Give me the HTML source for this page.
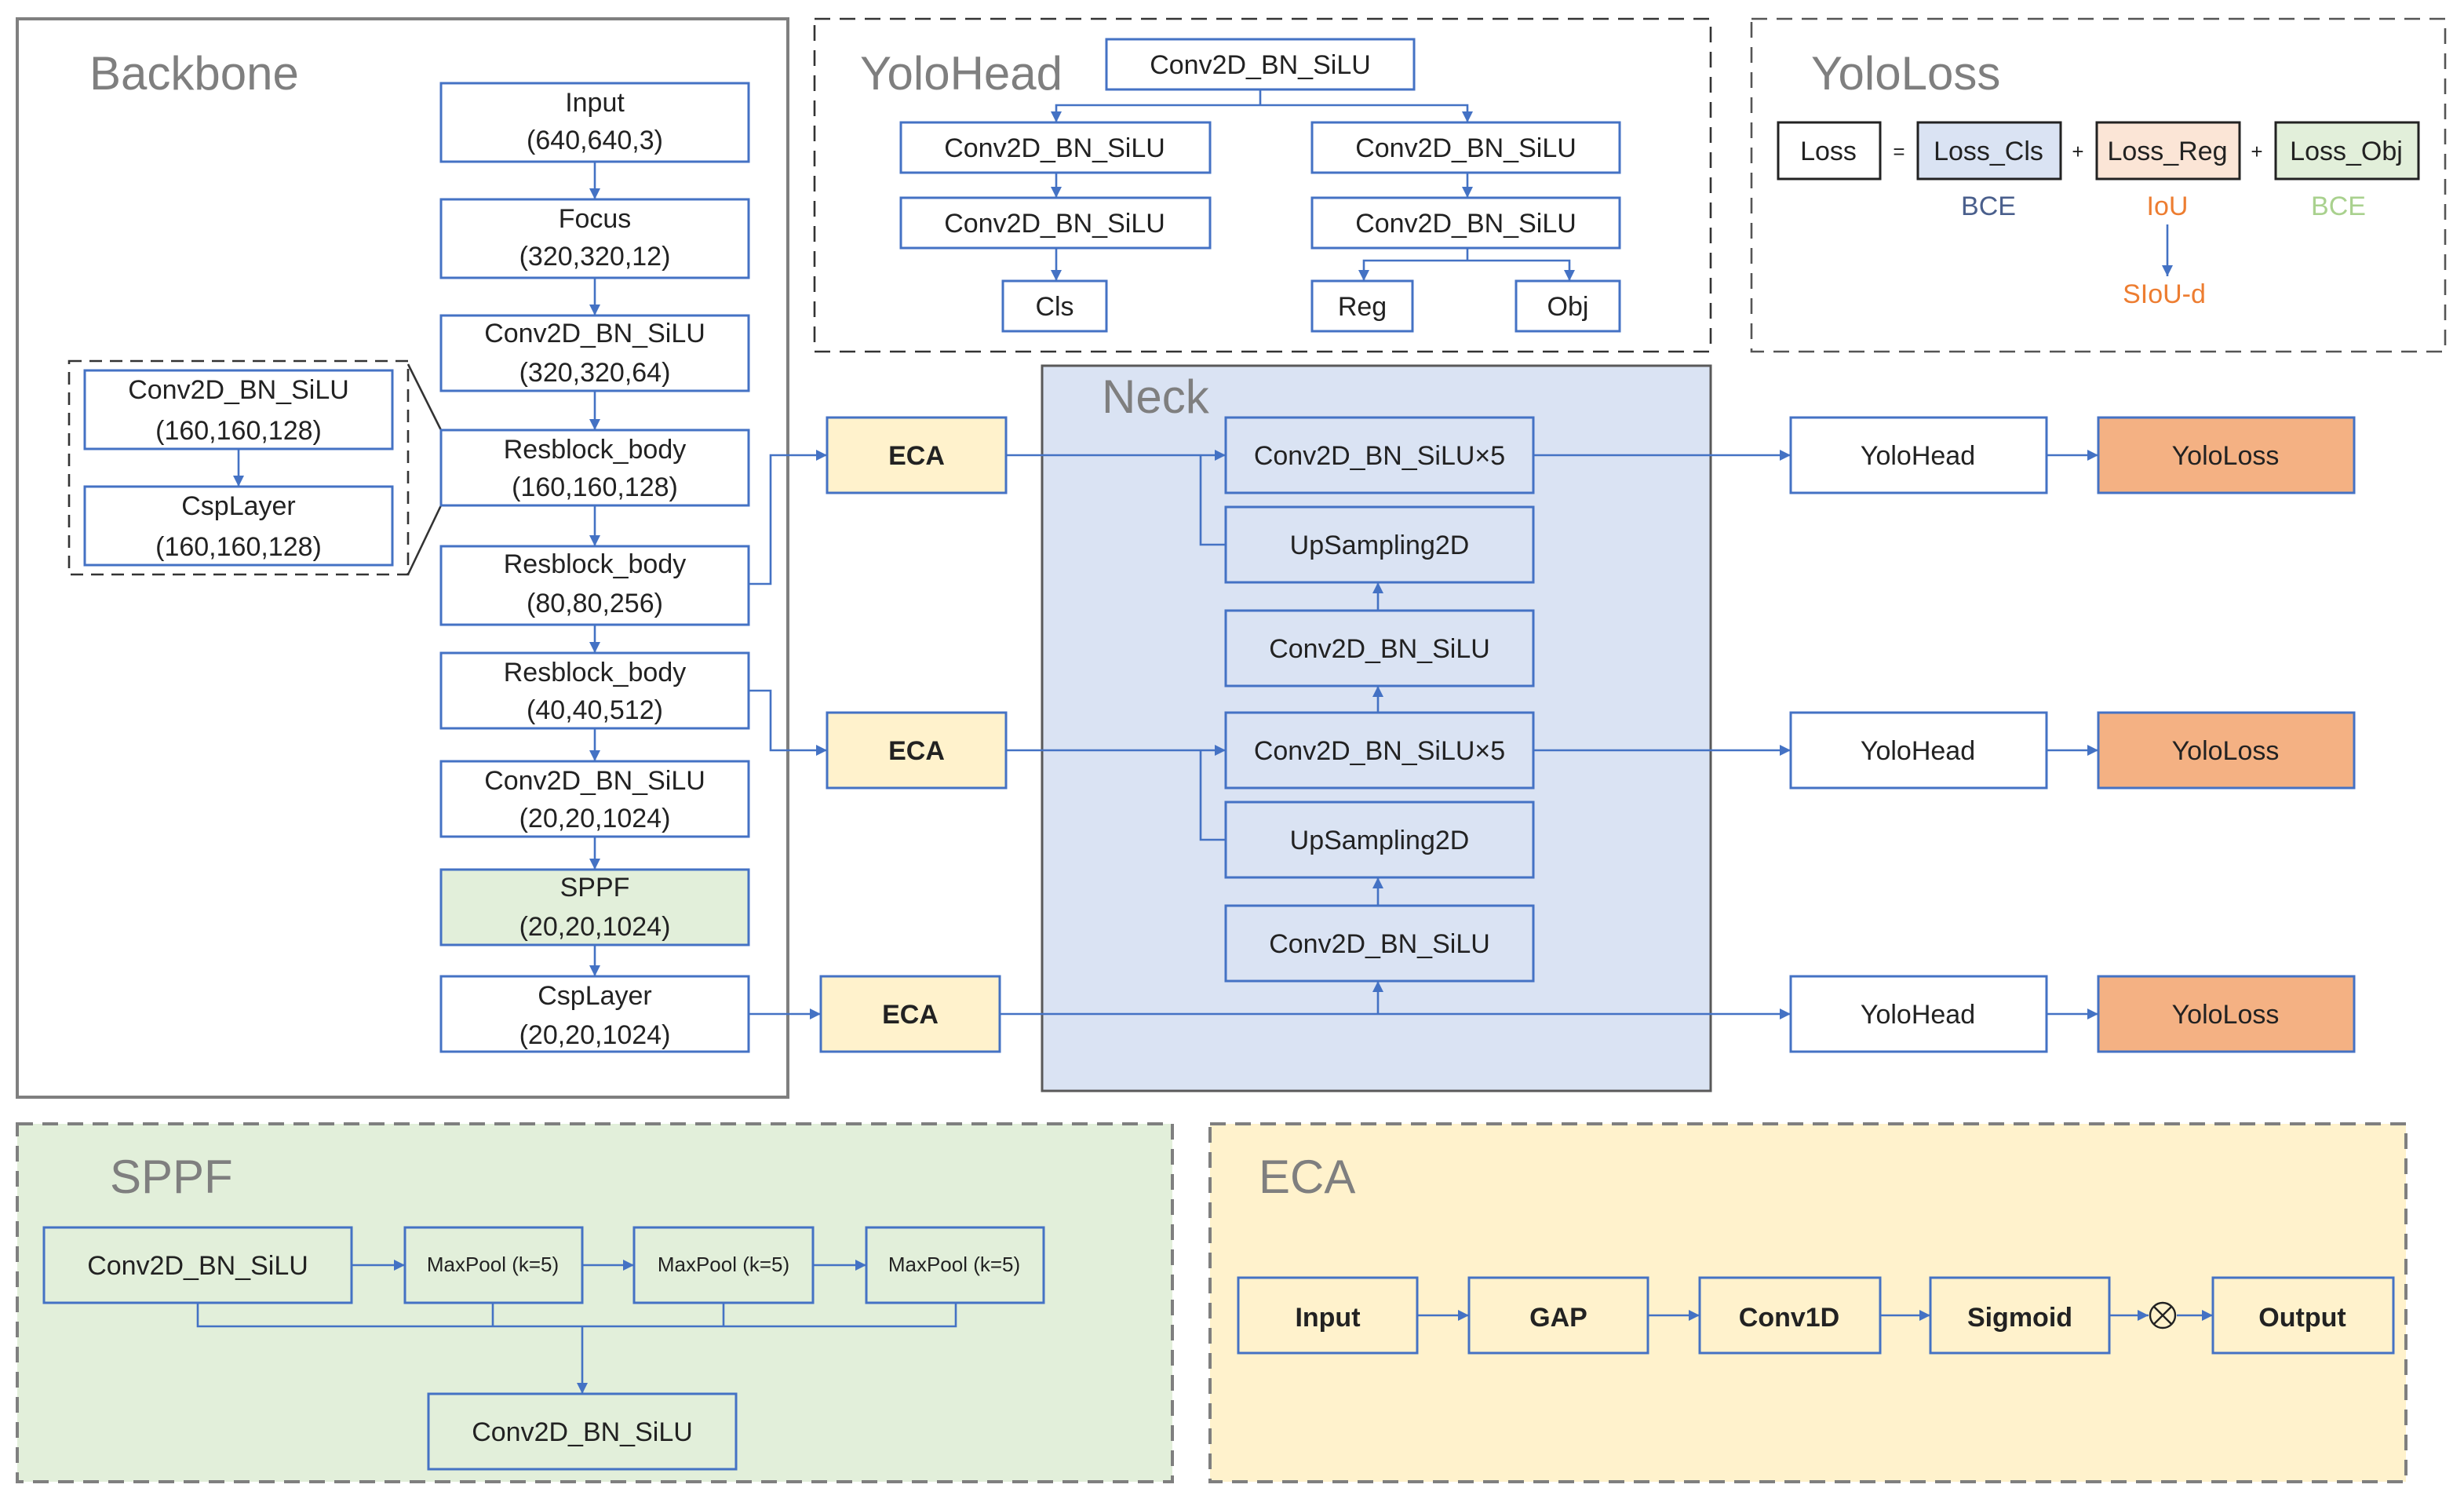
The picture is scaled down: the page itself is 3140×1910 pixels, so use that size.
<!DOCTYPE html>
<html><head><meta charset="utf-8"><style>
html,body{margin:0;padding:0;background:#fff;}
svg{display:block;}
text{font-family:"Liberation Sans",sans-serif;}
</style></head><body>
<svg width="3140" height="1910" viewBox="0 0 1570 955" preserveAspectRatio="none" xmlns="http://www.w3.org/2000/svg">
<defs>
<marker id="a" markerWidth="8" markerHeight="8" refX="7" refY="4" orient="auto" markerUnits="userSpaceOnUse"><path d="M0,0.5 L7,4 L0,7.5 z" fill="#4472C4"/></marker>
</defs>
<g fill="none" stroke-width="1.3">
<!-- containers -->
<rect x="11" y="12" width="491" height="687" stroke="#7f7f7f" stroke-width="2"/>
<rect x="519" y="12" width="571" height="212" stroke="#333" stroke-dasharray="10,6"/>
<rect x="1116" y="12" width="442" height="212" stroke="#555" stroke-dasharray="10,6"/>
<rect x="664" y="233" width="426" height="462" fill="#dae3f3" stroke="#595959" stroke-width="1.5"/>
<rect x="11" y="716" width="736" height="228" fill="#e2efda" stroke="#7f7f7f" stroke-width="2" stroke-dasharray="10,6"/>
<rect x="771" y="716" width="762" height="228" fill="#fff2cc" stroke="#7f7f7f" stroke-width="2" stroke-dasharray="10,6"/>
<rect x="44" y="230" width="216" height="136" stroke="#333" stroke-dasharray="8,5"/>
<path d="M260,232 L281,274 M260,366 L281,322" stroke="#333"/>
</g>
<g font-size="30" fill="#7f7f7f">
<text x="57" y="57">Backbone</text>
<text x="548" y="57">YoloHead</text>
<text x="1154" y="57">YoloLoss</text>
<text x="702" y="263">Neck</text>
<text x="70" y="760">SPPF</text>
<text x="802" y="760">ECA</text>
</g>
<!-- boxes -->
<g stroke="#4472C4" stroke-width="1.5" fill="#fff">
<rect x="281" y="53" width="196" height="50"/>
<rect x="281" y="127" width="196" height="50"/>
<rect x="281" y="201" width="196" height="48"/>
<rect x="281" y="274" width="196" height="48"/>
<rect x="281" y="348" width="196" height="50"/>
<rect x="281" y="416" width="196" height="48"/>
<rect x="281" y="485" width="196" height="48"/>
<rect x="281" y="554" width="196" height="48" fill="#e2efda"/>
<rect x="281" y="622" width="196" height="48"/>
<rect x="54" y="236" width="196" height="50"/>
<rect x="54" y="310" width="196" height="50"/>
<rect x="705" y="25" width="196" height="32"/>
<rect x="574" y="78" width="197" height="32"/>
<rect x="574" y="126" width="197" height="32"/>
<rect x="639" y="179" width="66" height="32"/>
<rect x="836" y="78" width="196" height="32"/>
<rect x="836" y="126" width="196" height="32"/>
<rect x="836" y="179" width="64" height="32"/>
<rect x="966" y="179" width="66" height="32"/>
<g fill="#dae3f3">
<rect x="781" y="266" width="196" height="48"/>
<rect x="781" y="323" width="196" height="48"/>
<rect x="781" y="389" width="196" height="48"/>
<rect x="781" y="454" width="196" height="48"/>
<rect x="781" y="511" width="196" height="48"/>
<rect x="781" y="577" width="196" height="48"/>
</g>
<g fill="#fff2cc">
<rect x="527" y="266" width="114" height="48"/>
<rect x="527" y="454" width="114" height="48"/>
<rect x="523" y="622" width="114" height="48"/>
</g>
<rect x="1141" y="266" width="163" height="48"/>
<rect x="1141" y="454" width="163" height="48"/>
<rect x="1141" y="622" width="163" height="48"/>
<g fill="#f4b183">
<rect x="1337" y="266" width="163" height="48"/>
<rect x="1337" y="454" width="163" height="48"/>
<rect x="1337" y="622" width="163" height="48"/>
</g>
<g fill="#e2efda">
<rect x="28" y="782" width="196" height="48"/>
<rect x="258" y="782" width="113" height="48"/>
<rect x="404" y="782" width="114" height="48"/>
<rect x="552" y="782" width="113" height="48"/>
<rect x="273" y="888" width="196" height="48"/>
</g>
<g fill="#fff2cc">
<rect x="789" y="814" width="114" height="48"/>
<rect x="936" y="814" width="114" height="48"/>
<rect x="1083" y="814" width="115" height="48"/>
<rect x="1230" y="814" width="114" height="48"/>
<rect x="1410" y="814" width="115" height="48"/>
</g>
</g>
<g stroke="#222" stroke-width="1.5">
<rect x="1133" y="78" width="65" height="36" fill="#fff"/>
<rect x="1222" y="78" width="91" height="36" fill="#dae3f3"/>
<rect x="1336" y="78" width="91" height="36" fill="#fbe5d6"/>
<rect x="1450" y="78" width="91" height="36" fill="#e2efda"/>
</g>
<!-- connectors -->
<g stroke="#4472C4" stroke-width="1.3" fill="none" marker-end="url(#a)">
<path d="M379,103 V127"/><path d="M379,177 V201"/><path d="M379,249 V274"/><path d="M379,322 V348"/>
<path d="M379,398 V416"/><path d="M379,464 V485"/><path d="M379,533 V554"/><path d="M379,602 V622"/>
<path d="M152,286 V310"/>
<path d="M477,372 H491 V290 H527"/>
<path d="M477,440 H491 V478 H527"/>
<path d="M477,646 H523"/>
<path d="M641,290 H781"/>
<path d="M641,478 H781"/>
<path d="M637,646 H1141"/>
<path d="M977,290 H1141"/><path d="M977,478 H1141"/>
<path d="M1304,290 H1337"/><path d="M1304,478 H1337"/><path d="M1304,646 H1337"/>
<path d="M878,389 V371"/><path d="M878,454 V437"/><path d="M878,577 V559"/><path d="M878,646 V625"/>
<path d="M803,67 H673 V78"/><path d="M803,67 H935 V78"/>
<path d="M673,110 V126"/><path d="M673,158 V179"/>
<path d="M935,110 V126"/>
<path d="M935,166 H869 V179"/><path d="M935,166 H1000 V179"/>
<path d="M1381,143 V176"/>
<path d="M224,806 H258"/><path d="M371,806 H404"/><path d="M518,806 H552"/>
<path d="M371,845 V888"/>
<path d="M903,838 H936"/><path d="M1050,838 H1083"/><path d="M1198,838 H1230"/>
<path d="M1344,838 H1369"/><path d="M1387,838 H1410"/>
</g>
<g stroke="#4472C4" stroke-width="1.3" fill="none">
<path d="M803,57 V67"/><path d="M935,158 V166"/>
<path d="M765,290 V347 H781"/><path d="M765,478 V535 H781"/>
<path d="M126,830 V845 H609 V830 M314,830 V845 M461,830 V845"/>
</g>
<circle cx="1378" cy="838" r="8" fill="none" stroke="#222" stroke-width="1.2"/>
<path d="M1372.3,832.3 L1383.7,843.7 M1383.7,832.3 L1372.3,843.7" stroke="#222" stroke-width="1.2"/>
<!-- text -->
<g font-size="17" fill="#222" text-anchor="middle">
<text x="379" y="71">Input</text><text x="379" y="95">(640,640,3)</text>
<text x="379" y="145">Focus</text><text x="379" y="169">(320,320,12)</text>
<text x="379" y="218">Conv2D_BN_SiLU</text><text x="379" y="243">(320,320,64)</text>
<text x="379" y="292">Resblock_body</text><text x="379" y="316">(160,160,128)</text>
<text x="379" y="365">Resblock_body</text><text x="379" y="390">(80,80,256)</text>
<text x="379" y="434">Resblock_body</text><text x="379" y="458">(40,40,512)</text>
<text x="379" y="503">Conv2D_BN_SiLU</text><text x="379" y="527">(20,20,1024)</text>
<text x="379" y="571">SPPF</text><text x="379" y="596">(20,20,1024)</text>
<text x="379" y="640">CspLayer</text><text x="379" y="665">(20,20,1024)</text>
<text x="152" y="254">Conv2D_BN_SiLU</text><text x="152" y="280">(160,160,128)</text>
<text x="152" y="328">CspLayer</text><text x="152" y="354">(160,160,128)</text>
<text x="803" y="47">Conv2D_BN_SiLU</text>
<text x="672" y="100">Conv2D_BN_SiLU</text><text x="672" y="148">Conv2D_BN_SiLU</text>
<text x="672" y="201">Cls</text>
<text x="934" y="100">Conv2D_BN_SiLU</text><text x="934" y="148">Conv2D_BN_SiLU</text>
<text x="868" y="201">Reg</text><text x="999" y="201">Obj</text>
<text x="1165" y="102">Loss</text><text x="1267" y="102">Loss_Cls</text>
<text x="1381" y="102">Loss_Reg</text><text x="1495" y="102">Loss_Obj</text>
<text x="1210" y="101" font-size="13">=</text><text x="1324" y="101" font-size="13">+</text><text x="1438" y="101" font-size="13">+</text>
<text x="1267" y="137" fill="#4a5f8c">BCE</text>
<text x="1381" y="137" fill="#ed7d31">IoU</text>
<text x="1490" y="137" fill="#a9d18e">BCE</text>
<text x="1379" y="193" fill="#ed7d31">SIoU-d</text>
<text x="879" y="296">Conv2D_BN_SiLU×5</text>
<text x="879" y="353">UpSampling2D</text>
<text x="879" y="419">Conv2D_BN_SiLU</text>
<text x="879" y="484">Conv2D_BN_SiLU×5</text>
<text x="879" y="541">UpSampling2D</text>
<text x="879" y="607">Conv2D_BN_SiLU</text>
<text x="1222" y="296">YoloHead</text><text x="1222" y="484">YoloHead</text><text x="1222" y="652">YoloHead</text>
<text x="1418" y="296">YoloLoss</text><text x="1418" y="484">YoloLoss</text><text x="1418" y="652">YoloLoss</text>
<g font-weight="bold">
<text x="584" y="296">ECA</text><text x="584" y="484">ECA</text><text x="580" y="652">ECA</text>
<text x="846" y="845">Input</text><text x="993" y="845">GAP</text><text x="1140" y="845">Conv1D</text>
<text x="1287" y="845">Sigmoid</text><text x="1467" y="845">Output</text>
</g>
<text x="126" y="812">Conv2D_BN_SiLU</text>
<text x="314" y="810" font-size="13">MaxPool (k=5)</text>
<text x="461" y="810" font-size="13">MaxPool (k=5)</text>
<text x="608" y="810" font-size="13">MaxPool (k=5)</text>
<text x="371" y="918">Conv2D_BN_SiLU</text>
</g>
</svg>
</body></html>
